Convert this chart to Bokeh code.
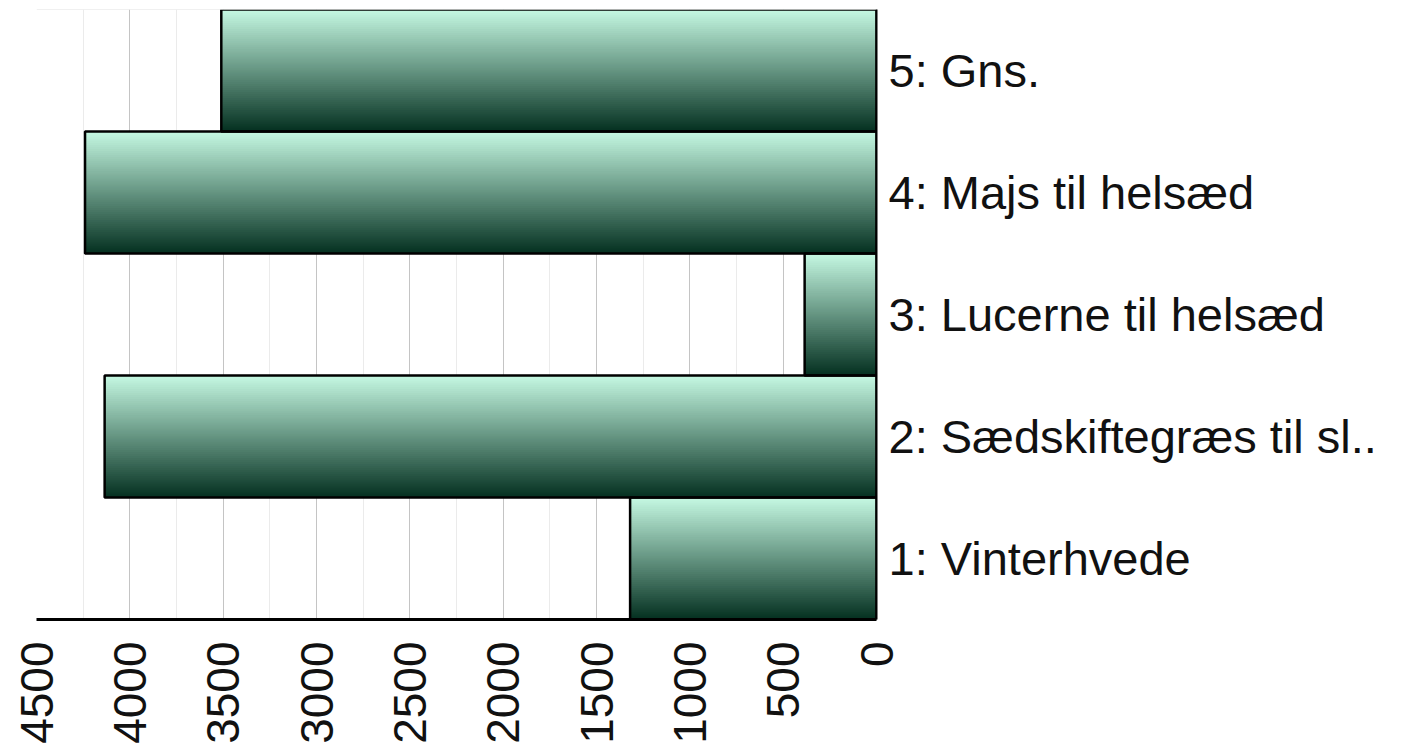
import math
from bokeh.plotting import figure
from bokeh.models import ColumnDataSource, SingleIntervalTicker, FixedTicker, Range1d, Span
from bokeh.embed import file_html
from bokeh.resources import INLINE

# ---- data ----
categories = ["1: Vinterhvede", "2: Sædskiftegræs til sl..", "3: Lucerne til helsæd",
              "4: Majs til helsæd", "5: Gns."]
values = [1320, 4135, 385, 4240, 3510]
x_ticks = [0, 500, 1000, 1500, 2000, 2500, 3000, 3500, 4000, 4500]

# ---- style ----
TOP_RGB = (196, 247, 225)
BOT_RGB = (2, 46, 30)
N_STRIPES = 60
FONT = "Liberation Sans"

positions = list(range(1, len(categories) + 1))

# gradient stripes for each bar (overlapping to avoid seams)
left, right, top, bottom, color = [], [], [], [], []
for pos, v in zip(positions, values):
    y0 = pos - 0.5
    for j in range(N_STRIPES):
        t = (j + 0.5) / N_STRIPES  # 0 bottom -> 1 top
        r = round(BOT_RGB[0] + (TOP_RGB[0] - BOT_RGB[0]) * t)
        g = round(BOT_RGB[1] + (TOP_RGB[1] - BOT_RGB[1]) * t)
        b = round(BOT_RGB[2] + (TOP_RGB[2] - BOT_RGB[2]) * t)
        left.append(v)
        right.append(0)
        bottom.append(y0 + max(0.0, (j - 0.6) / N_STRIPES))
        top.append(y0 + (j + 1) / N_STRIPES)
        color.append("#%02x%02x%02x" % (r, g, b))

stripes = ColumnDataSource(dict(left=left, right=right, top=top, bottom=bottom, color=color))
bars = ColumnDataSource(dict(y=positions, v=values))

p = figure(frame_width=840, frame_height=610, output_backend="svg", toolbar_location=None,
           x_range=Range1d(4500, 0), y_range=Range1d(0.5, 5.5),
           y_axis_location="right", min_border_left=36, min_border_top=9,
           min_border_right=10, min_border_bottom=0)

p.quad(left="left", right="right", top="top", bottom="bottom", source=stripes,
       fill_color="color", line_color=None)
p.hbar(y="y", right=0, left="v", height=1.0, source=bars,
       fill_color=None, line_color="#000000", line_width=2.5)

p.outline_line_color = None
p.background_fill_color = "white"
p.border_fill_color = "white"

p.add_layout(Span(location=5.5, dimension="width", line_color="#e2e2e2", line_width=1), "below")

# x axis
xa = p.xaxis[0]
xa.ticker = SingleIntervalTicker(interval=500, num_minor_ticks=2)
xa.axis_line_color = "#000000"
xa.axis_line_width = 3
xa.major_tick_line_color = None
xa.minor_tick_line_color = None
xa.major_label_orientation = math.pi / 2
xa.major_label_text_font = FONT
xa.major_label_text_font_size = "46px"
xa.major_label_text_color = "#111111"
xa.major_label_standoff = 16

# y axis (right)
ya = p.yaxis[0]
ya.ticker = FixedTicker(ticks=positions)
ya.major_label_overrides = {pos: c for pos, c in zip(positions, categories)}
ya.axis_line_color = "#000000"
ya.axis_line_width = 2
ya.major_tick_line_color = None
ya.minor_tick_line_color = None
ya.major_label_text_font = FONT
ya.major_label_text_font_size = "47px"
ya.major_label_text_color = "#111111"
ya.major_label_standoff = 6

p.xgrid.grid_line_color = "#c4c4c4"
p.xgrid.grid_line_width = 1
p.xgrid.minor_grid_line_color = "#ebebeb"
p.xgrid.minor_grid_line_width = 1
p.ygrid.grid_line_color = None

open("out.html", "w").write(file_html(p, INLINE))
